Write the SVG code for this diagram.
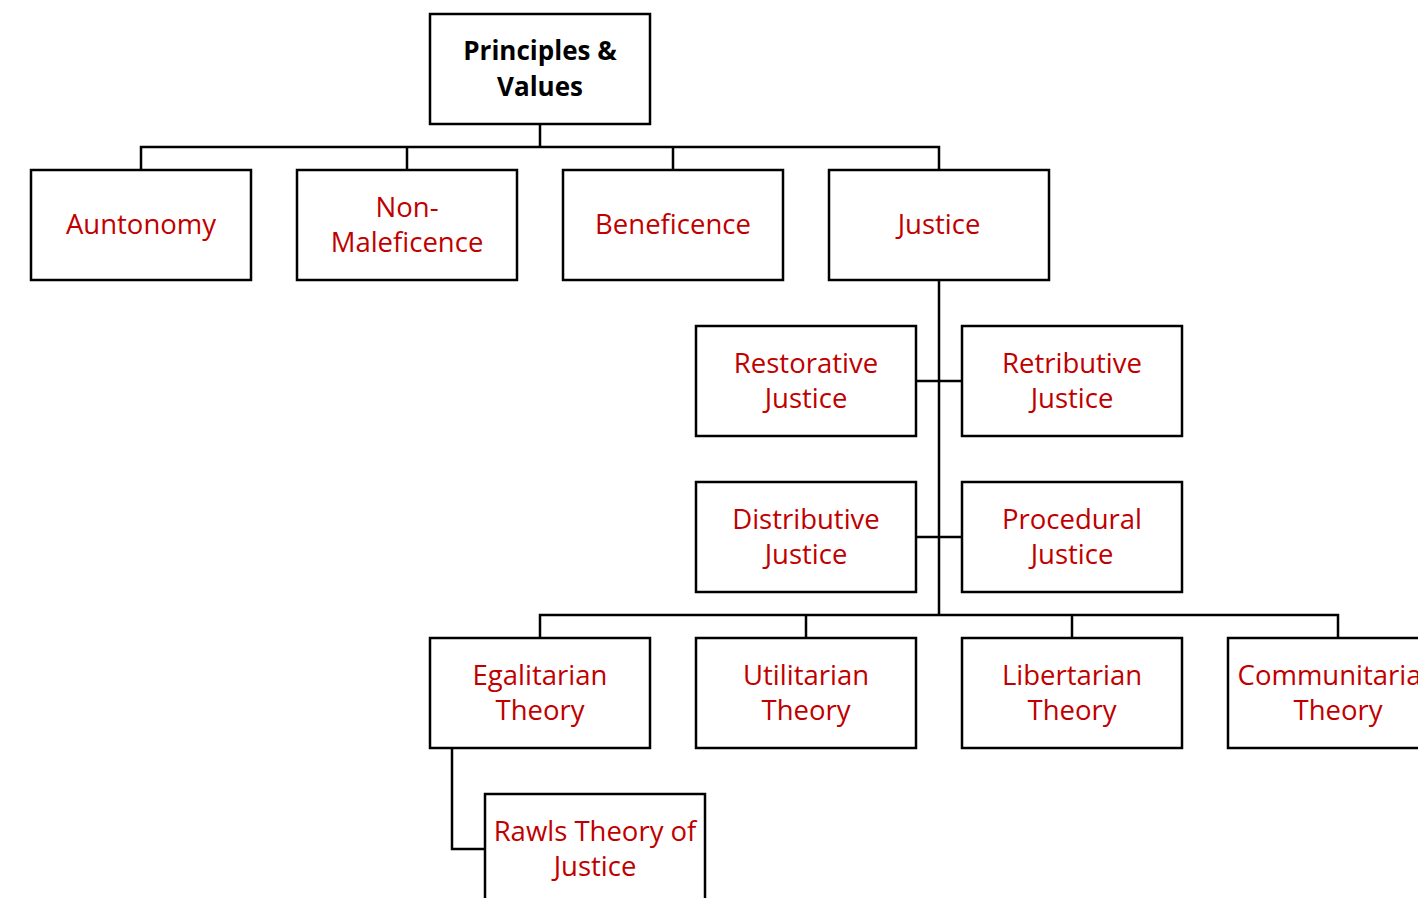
<svg xmlns="http://www.w3.org/2000/svg" width="1418" height="898" viewBox="0 0 1418 898">
<style>
.box{fill:#fff;stroke:#000;stroke-width:2.5}
.t{font-family:"Open Sans","Liberation Sans",sans-serif;font-size:27.5px;fill:#C00000;text-anchor:middle}
.h{font-family:"Open Sans","Liberation Sans",sans-serif;font-size:26px;font-weight:bold;fill:#000;text-anchor:middle}
.c{fill:none;stroke:#000;stroke-width:2.5}
</style>
<rect width="1418" height="898" fill="#fff"/>
<g id="connectors">
<path class="c" d="M540 124V147M141 170V147H939V170M407 147V170M673 147V170"/>
<path class="c" d="M939 280V615M916 381H962M916 537H962"/>
<path class="c" d="M540 638V615H1338V638M806 615V638M1072 615V638"/>
<path class="c" d="M452 748V849H485"/>
</g>
<g id="n-principles"><rect class="box" x="430" y="14" width="220" height="110"/><text class="h" x="540" y="60">Principles &amp;</text><text class="h" x="540" y="96">Values</text></g>
<g id="n-autonomy"><rect class="box" x="31" y="170" width="220" height="110"/><text class="t" x="141" y="234">Auntonomy</text></g>
<g id="n-nonmal"><rect class="box" x="297" y="170" width="220" height="110"/><text class="t" x="407" y="217">Non-</text><text class="t" x="407" y="252">Maleficence</text></g>
<g id="n-benef"><rect class="box" x="563" y="170" width="220" height="110"/><text class="t" x="673" y="234">Beneficence</text></g>
<g id="n-justice"><rect class="box" x="829" y="170" width="220" height="110"/><text class="t" x="939" y="234">Justice</text></g>
<g id="n-restor"><rect class="box" x="696" y="326" width="220" height="110"/><text class="t" x="806" y="373">Restorative</text><text class="t" x="806" y="408">Justice</text></g>
<g id="n-retrib"><rect class="box" x="962" y="326" width="220" height="110"/><text class="t" x="1072" y="373">Retributive</text><text class="t" x="1072" y="408">Justice</text></g>
<g id="n-distrib"><rect class="box" x="696" y="482" width="220" height="110"/><text class="t" x="806" y="529">Distributive</text><text class="t" x="806" y="564">Justice</text></g>
<g id="n-proced"><rect class="box" x="962" y="482" width="220" height="110"/><text class="t" x="1072" y="529">Procedural</text><text class="t" x="1072" y="564">Justice</text></g>
<g id="n-egal"><rect class="box" x="430" y="638" width="220" height="110"/><text class="t" x="540" y="685">Egalitarian</text><text class="t" x="540" y="720">Theory</text></g>
<g id="n-util"><rect class="box" x="696" y="638" width="220" height="110"/><text class="t" x="806" y="685">Utilitarian</text><text class="t" x="806" y="720">Theory</text></g>
<g id="n-libert"><rect class="box" x="962" y="638" width="220" height="110"/><text class="t" x="1072" y="685">Libertarian</text><text class="t" x="1072" y="720">Theory</text></g>
<g id="n-commun"><rect class="box" x="1228" y="638" width="220" height="110"/><text class="t" x="1338" y="685">Communitarian</text><text class="t" x="1338" y="720">Theory</text></g>
<g id="n-rawls"><rect class="box" x="485" y="794" width="220" height="110"/><text class="t" x="595" y="841">Rawls Theory of</text><text class="t" x="595" y="876">Justice</text></g>
</svg>
